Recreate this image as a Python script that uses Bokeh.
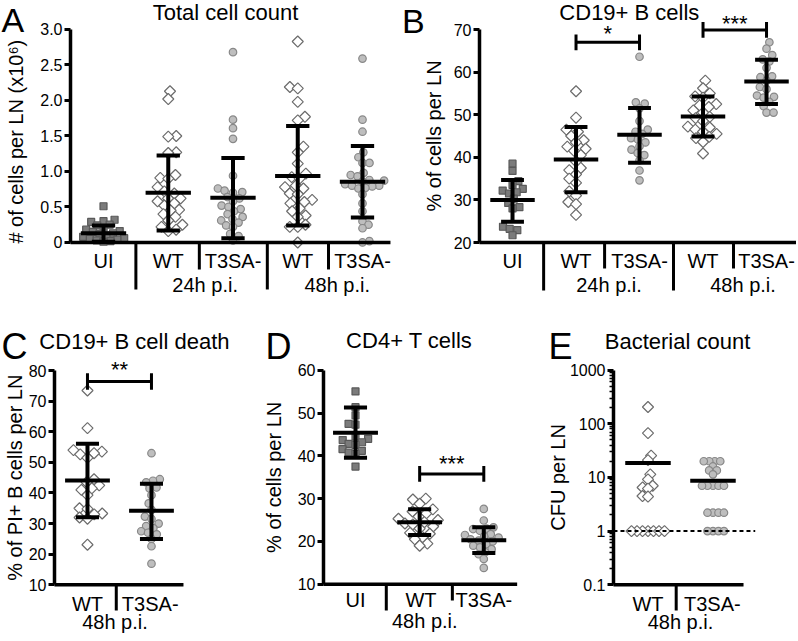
import math
from bokeh.plotting import figure
from bokeh.models import Range1d, FixedTicker, Label
from bokeh.layouts import column, row
from bokeh.embed import file_html
from bokeh.resources import INLINE

FONT = "Liberation Sans"

# ---------------- Panel A: Total cell count (x10^6 per LN) ----------------
A_cats = ["UI", "WT", "T3SA-", "WT", "T3SA-"]
A_groups = ["24h p.i.", "48h p.i."]
A_ticks = [0, 0.5, 1, 1.5, 2, 2.5, 3]
A_ticklabels = ["0", "0.5", "1.0", "1.5", "2.0", "2.5", "3.0"]
A_ui = [0.51, 0.32, 0.30, 0.29, 0.25, 0.24, 0.20, 0.18, 0.16, 0.15, 0.13, 0.12,
        0.10, 0.08, 0.06, 0.05, 0.04, 0.03, 0.02, 0.01]
A_wt24 = [2.13, 2.02, 1.50, 1.49, 1.27, 1.26, 0.95, 0.91, 0.90, 0.78, 0.72, 0.69,
          0.62, 0.62, 0.58, 0.55, 0.52, 0.46, 0.45, 0.40, 0.36, 0.31, 0.25, 0.22, 0.18, 0.16]
A_t3sa24 = [2.68, 1.73, 1.61, 1.46, 0.94, 0.76, 0.73, 0.71, 0.70, 0.64, 0.62, 0.58,
            0.52, 0.50, 0.47, 0.44, 0.40, 0.36, 0.33, 0.31, 0.28, 0.24, 0.22, 0.12, 0.09, 0.03]
A_wt48 = [2.83, 2.19, 2.17, 1.98, 1.77, 1.72, 1.35, 1.27, 1.11, 0.97, 0.92, 0.90,
          0.80, 0.78, 0.76, 0.69, 0.68, 0.60, 0.57, 0.55, 0.48, 0.44, 0.38, 0.36, 0.25, 0.22, 0.22, 0.0]
A_t3sa48 = [2.59, 1.73, 1.56, 1.27, 1.20, 1.12, 1.12, 0.98, 0.95, 0.93, 0.88, 0.87,
            0.86, 0.82, 0.80, 0.80, 0.79, 0.77, 0.76, 0.68, 0.55, 0.44, 0.30, 0.25, 0.20, 0.02, 0.0]
A_mean = [0.13, 0.70, 0.63, 0.935, 0.855]
A_lo = [0.01, 0.17, 0.06, 0.24, 0.35]
A_hi = [0.24, 1.225, 1.19, 1.64, 1.36]

# ---------------- Panel B: CD19+ B cells (% of cells per LN) ----------------
B_cats = ["UI", "WT", "T3SA-", "WT", "T3SA-"]
B_groups = ["24h p.i.", "48h p.i."]
B_ticks = [20, 30, 40, 50, 60, 70]
B_ticklabels = ["20", "30", "40", "50", "60", "70"]
B_ui = [38.5, 36.8, 34.4, 33.5, 32.6, 32.2, 31.8, 31.5, 30.3, 29.3, 28.3, 28.0,
        23.7, 23.2, 22.9, 21.7]
B_wt24 = [55.5, 49.3, 46.5, 46.0, 45.0, 44.0, 43.5, 42.5, 42.0, 41.5, 40.5, 39.0,
          37.5, 37.0, 36.0, 35.0, 34.0, 32.0, 31.0, 29.5, 29.0, 26.5]
B_t3sa24 = [63.6, 52.9, 52.6, 51.5, 48.5, 46.5, 46.0, 45.5, 44.5, 44.2, 43.5, 42.6,
            41.8, 41.0, 40.5, 39.3, 36.9, 34.6]
B_wt48 = [58.0, 56.2, 55.0, 54.3, 54.0, 52.5, 52.2, 51.8, 51.0, 50.5, 49.5, 49.2,
          48.5, 47.2, 47.0, 46.5, 46.0, 45.5, 44.8, 44.5, 43.6, 40.9]
B_t3sa48 = [67.0, 65.5, 64.0, 63.0, 62.5, 61.0, 59.0, 58.8, 58.0, 56.5, 56.0, 54.5,
            54.2, 54.0, 53.0, 52.0, 50.5, 50.5]
B_mean = [30.0, 39.5, 45.3, 49.6, 57.8]
B_lo = [24.9, 31.8, 38.7, 44.9, 52.5]
B_hi = [34.7, 47.1, 51.6, 54.3, 62.9]
B_sig_from = [2, 4]
B_sig_to = [3, 5]
B_sig_y = [67.0, 69.9]
B_sig_text = ["*", "***"]

# ---------------- Panel C: CD19+ B cell death (% of PI+ B cells per LN) ----------------
C_cats = ["WT", "T3SA-"]
C_groups = ["48h p.i."]
C_ticks = [10, 20, 30, 40, 50, 60, 70, 80]
C_ticklabels = ["10", "20", "30", "40", "50", "60", "70", "80"]
C_wt = [73.5, 61.2, 54.0, 53.5, 53.0, 52.6, 51.5, 44.5, 43.5, 42.5, 41.5, 41.0,
        39.3, 35.0, 34.8, 33.3, 33.0, 32.0, 31.6, 23.1]
C_t3sa = [53.0, 44.5, 44.0, 43.5, 41.8, 41.5, 39.3, 36.6, 34.5, 32.3, 31.5, 30.0,
          29.2, 28.5, 27.5, 27.0, 26.5, 25.0, 22.6, 16.9]
C_mean = [44.1, 34.2]
C_lo = [32.1, 25.0]
C_hi = [56.1, 43.0]
C_sig_from = [1]
C_sig_to = [2]
C_sig_y = [76.4]
C_sig_text = ["**"]

# ---------------- Panel D: CD4+ T cells (% of cells per LN) ----------------
D_cats = ["UI", "WT", "T3SA-"]
D_groups = ["48h p.i."]
D_ticks = [10, 20, 30, 40, 50, 60]
D_ticklabels = ["10", "20", "30", "40", "50", "60"]
D_ui = [55.1, 51.4, 49.5, 47.5, 47.3, 44.5, 44.0, 43.7, 43.2, 42.8, 42.6, 41.6,
        41.2, 40.8, 40.5, 37.5]
D_wt = [30.0, 29.8, 28.8, 27.5, 27.0, 26.5, 25.8, 25.3, 25.0, 24.5, 24.2, 24.0,
        23.5, 23.0, 22.0, 21.8, 21.0, 20.5, 19.5, 19.0]
D_t3sa = [27.6, 24.9, 23.3, 23.0, 22.9, 22.5, 21.7, 21.5, 21.2, 20.9, 20.5, 20.2,
          20.0, 19.4, 19.0, 18.6, 18.2, 17.5, 17.0, 15.9, 13.8]
D_mean = [45.4, 24.5, 20.3]
D_lo = [39.6, 21.5, 17.3]
D_hi = [51.3, 27.5, 23.3]
D_sig_from = [2]
D_sig_to = [3]
D_sig_y = [35.8]
D_sig_text = ["***"]

# ---------------- Panel E: Bacterial count (CFU per LN) ----------------
E_cats = ["WT", "T3SA-"]
E_groups = ["48h p.i."]
E_ticks = [0.1, 1, 10, 100, 1000]
E_ticklabels = ["0.1", "1", "10", "100", "1000"]
E_wt = [205, 67, 25.5, 21, 11.4, 9.2, 7.0, 6.5, 6.2, 4.5, 4.4, 1, 1, 1, 1, 1, 1, 1]
E_t3sa = [20, 20, 20, 20, 16, 13.5, 13.5, 11.4, 7, 7, 7, 7, 7, 2.2, 2.2, 2.2, 2.2,
          1, 1, 1, 1]
E_mean = [18.5, 8.7]
E_limit = 1

# ---------------- styling helpers ----------------
MARK = {
    "sq": dict(marker="square", size=7, angle=0.0, fill_color="#7b7b7b", line_color="#595959", d=7.0),
    "dia": dict(marker="square", size=7.8, angle=math.pi / 4, fill_color="white", line_color="#6c6c6c", d=8.0),
    "cir": dict(marker="circle", size=7.5, angle=0.0, fill_color="#bebebe", line_color="#888888", d=7.0),
}


def swarm(ypx, d):
    order = sorted(range(len(ypx)), key=lambda i: ypx[i])
    placed = []
    xs = [0.0] * len(ypx)
    for i in order:
        y = ypx[i]
        cands = [0.0]
        for (px, py) in placed:
            dy = abs(py - y)
            if dy < d:
                dx = math.sqrt(d * d - dy * dy)
                cands += [px + dx, px - dx]
        cands.sort(key=lambda c: (round(abs(c), 6), -c if len(placed) % 2 else c))
        for c in cands:
            if all((c - px) ** 2 + (y - py) ** 2 >= d * d - 1e-6 for px, py in placed):
                xs[i] = c
                break
        placed.append((xs[i], y))
    return xs


def panel(width, height, xr, yr, axis_x, log=False):
    p = figure(width=width, height=height, x_range=Range1d(*xr), y_range=Range1d(*yr),
               y_axis_type="log" if log else "linear", x_axis_location=None,
               output_backend="svg", toolbar_location=None,
               min_border_left=0, min_border_right=0, min_border_top=0, min_border_bottom=0)
    p.xgrid.visible = False
    p.ygrid.visible = False
    p.outline_line_color = None
    p.background_fill_color = "white"
    p.border_fill_color = "white"
    p.yaxis[0].fixed_location = axis_x
    return p


def style_yaxis(p, ticks, labels, bounds, minor=None):
    ax = p.yaxis[0]
    ax.ticker = FixedTicker(ticks=ticks, minor_ticks=minor or [])
    ax.major_label_overrides = {t: l for t, l in zip(ticks, labels)}
    ax.bounds = bounds
    ax.axis_line_width = 3.5
    ax.axis_line_color = "black"
    ax.major_tick_line_width = 3
    ax.major_tick_line_color = "black"
    ax.major_tick_out = 6
    ax.major_tick_in = 0
    ax.minor_tick_in = 0
    ax.minor_tick_out = 4 if minor else 0
    ax.minor_tick_line_width = 1.5
    ax.minor_tick_line_color = "black"
    ax.major_label_text_font = FONT
    ax.major_label_text_font_size = "16px"
    ax.major_label_text_color = "black"
    ax.major_label_standoff = 2


def txt(p, x, y, s, size=20, align="center", angle=0.0):
    p.add_layout(Label(x=x, y=y, text=s, text_font=FONT, text_font_size=f"{size}px",
                       text_align=align, text_baseline="middle", angle=angle,
                       text_color="black"))


def points(p, pos, vals, kind, xpx, ypx, log=False, d=None):
    m = MARK[kind]
    ys = [(math.log10(v) if log else v) * ypx for v in vals]
    offs = swarm(ys, d if d is not None else m["d"])
    xs = [pos + o / xpx for o in offs]
    p.scatter(xs, vals, marker=m["marker"], size=m["size"], angle=m["angle"],
              fill_color=m["fill_color"], line_color=m["line_color"], line_width=1.2)


def meansd(p, pos, means, lo=None, hi=None, mw=0.35, cw=0.18):
    p.segment([x - mw for x in pos], means, [x + mw for x in pos], means,
              line_color="black", line_width=4)
    if lo is not None:
        p.segment(pos, lo, pos, hi, line_color="black", line_width=4)
        p.segment([x - cw for x in pos], lo, [x + cw for x in pos], lo, line_color="black", line_width=4)
        p.segment([x - cw for x in pos], hi, [x + cw for x in pos], hi, line_color="black", line_width=4)


def sig(p, x0s, x1s, ys, texts, h, tdys):
    for x0, x1, y, s, tdy in zip(x0s, x1s, ys, texts, tdys):
        p.segment([x0, x0, x1], [y, y - h, y - h], [x1, x0, x1], [y, y + h, y + h],
                  line_color="black", line_width=3)
        txt(p, (x0 + x1) / 2, y + tdy, s, 22)


def xbase(p, x0, x1, y):
    p.segment([x0], [y], [x1], [y], line_color="black", line_width=3.5)


def seps(p, xs, ytop, ybot):
    p.segment(xs, [ytop] * len(xs), xs, [ybot] * len(xs), line_color="black", line_width=3)


# ---------------- Panel A ----------------
pA = panel(400, 320, (-0.591, 5.587), (-1.099, 3.408), 0.49)
style_yaxis(pA, A_ticks, A_ticklabels, (0, 3))
A_pos = [1, 2, 3, 4, 5]
for pos, vals, kind in zip(A_pos, [A_ui, A_wt24, A_t3sa24, A_wt48, A_t3sa48],
                           ["sq", "dia", "cir", "dia", "cir"]):
    points(pA, pos, vals, kind, 64.75, 71.0)
meansd(pA, A_pos, A_mean, A_lo, A_hi)
xbase(pA, 0.49, 5.432, 0)
seps(pA, [1.5, 3.53], 0, -0.662)
seps(pA, [2.48, 4.475], 0, -0.38)
for pos, c in zip(A_pos, A_cats):
    txt(pA, pos, -0.26, c)
for gx, g in zip([2.57, 4.61], A_groups):
    txt(pA, gx, -0.606, g)
txt(pA, 2.884, 3.246, "Total cell count", 22)
txt(pA, -0.575, 3.127, "A", 34, align="left")
txt(pA, -0.359, 1.42, "# of cells per LN (x10\u2076)", 20, angle=math.pi / 2)

# ---------------- Panel B ----------------
pB = panel(396, 320, (-0.764, 5.472), (1.69, 76.81), 0.48)
style_yaxis(pB, B_ticks, B_ticklabels, (20, 70))
B_pos = [1, 2, 3, 4, 5]
for pos, vals, kind in zip(B_pos, [B_ui, B_wt24, B_t3sa24, B_wt48, B_t3sa48],
                           ["sq", "dia", "cir", "dia", "cir"]):
    points(pB, pos, vals, kind, 63.5, 4.26)
meansd(pB, B_pos, B_mean, B_lo, B_hi)
sig(pB, B_sig_from, B_sig_to, B_sig_y, B_sig_text, 1.85, [2.0, 1.6])
xbase(pB, 0.48, 5.47, 20)
seps(pB, [1.49, 3.535], 20, 8.73)
seps(pB, [2.45, 4.48], 20, 13.9)
for pos, c in zip(B_pos, B_cats):
    txt(pB, pos, 15.66, c)
for gx, g in zip([2.52, 4.63], B_groups):
    txt(pB, gx, 9.91, g)
txt(pB, 2.84, 74.0, "CD19+ B cells", 22)
txt(pB, -0.74, 72.1, "B", 34, align="left")
txt(pB, -0.244, 45.0, "% of cells per LN", 20, angle=math.pi / 2)

# ---------------- Panel C ----------------
pC = panel(264, 319, (-0.359, 3.766), (-7.88, 96.37), 0.484)
style_yaxis(pC, C_ticks, C_ticklabels, (10, 80))
C_pos = [1, 2]
for pos, vals, kind in zip(C_pos, [C_wt, C_t3sa], ["dia", "cir"]):
    points(pC, pos, vals, kind, 64.0, 3.06)
meansd(pC, C_pos, C_mean, C_lo, C_hi)
sig(pC, C_sig_from, C_sig_to, C_sig_y, C_sig_text, 2.7, [3.8])
xbase(pC, 0.484, 2.5, 10)
seps(pC, [1.45], 10, 1.6)
for pos, c in zip([1.0, 1.98], C_cats):
    txt(pC, pos, 3.79, c)
txt(pC, 1.43, -2.16, C_groups[0])
txt(pC, 1.734, 89.67, "CD19+ B cell death", 22)
txt(pC, -0.344, 87.88, "C", 36, align="left")
txt(pC, -0.125, 45.0, "% of PI+ B cells per LN", 20, angle=math.pi / 2)

# ---------------- Panel D ----------------
pD = panel(266, 319, (-0.4186, 3.728), (-2.94, 71.68), 0.501)
style_yaxis(pD, D_ticks, D_ticklabels, (10, 60))
D_pos = [1, 2, 3]
for pos, vals, kind in zip(D_pos, [D_ui, D_wt, D_t3sa], ["sq", "dia", "cir"]):
    points(pD, pos, vals, kind, 64.15, 4.275)
meansd(pD, D_pos, D_mean, D_lo, D_hi)
sig(pD, D_sig_from, D_sig_to, D_sig_y, D_sig_text, 1.85, [2.5])
xbase(pD, 0.501, 3.52, 10)
seps(pD, [1.48], 10, 3.85)
seps(pD, [2.51], 10, 6.2)
for pos, c in zip([1.0, 2.02, 3.0], D_cats):
    txt(pD, pos, 6.19, c)
txt(pD, 2.08, 1.39, D_groups[0])
txt(pD, 1.84, 66.89, "CD4+ T cells", 22)
txt(pD, -0.403, 65.6, "D", 36, align="left")
txt(pD, -0.263, 35.0, "% of cells per LN", 20, angle=math.pi / 2)

# ---------------- Panel E ----------------
pE = panel(266, 319, (-0.8077, 3.285), (0.00955, 8395), 0.469, log=True)
E_minor = [k * 10.0 ** e for e in (-1, 0, 1, 2) for k in range(2, 10)]
style_yaxis(pE, E_ticks, E_ticklabels, (0.1, 1000), minor=E_minor)
E_pos = [1, 2]
for pos, vals, kind in zip(E_pos, [E_wt, E_t3sa], ["dia", "cir"]):
    points(pE, pos, vals, kind, 65.0, 53.67, log=True, d=5.5)
meansd(pE, E_pos, E_mean)
pE.segment([0.469], [E_limit], [2.65], [E_limit], line_color="black", line_width=2, line_dash="4 3")
xbase(pE, 0.469, 2.47, 0.1)
seps(pE, [1.434], 0.1, 0.0332)
for pos, c in zip([1.0, 1.99], E_cats):
    txt(pE, pos, 0.04419, c)
txt(pE, 1.5, 0.02024, E_groups[0])
txt(pE, 1.454, 3483, "Bacterial count", 22)
txt(pE, -0.531, 2754, "E", 36, align="left")
txt(pE, -0.377, 10, "CFU per LN", 20, angle=math.pi / 2)

layout = column(row(pA, pB), row(pC, pD, pE))
open("out.html", "w").write(file_html(layout, INLINE))
